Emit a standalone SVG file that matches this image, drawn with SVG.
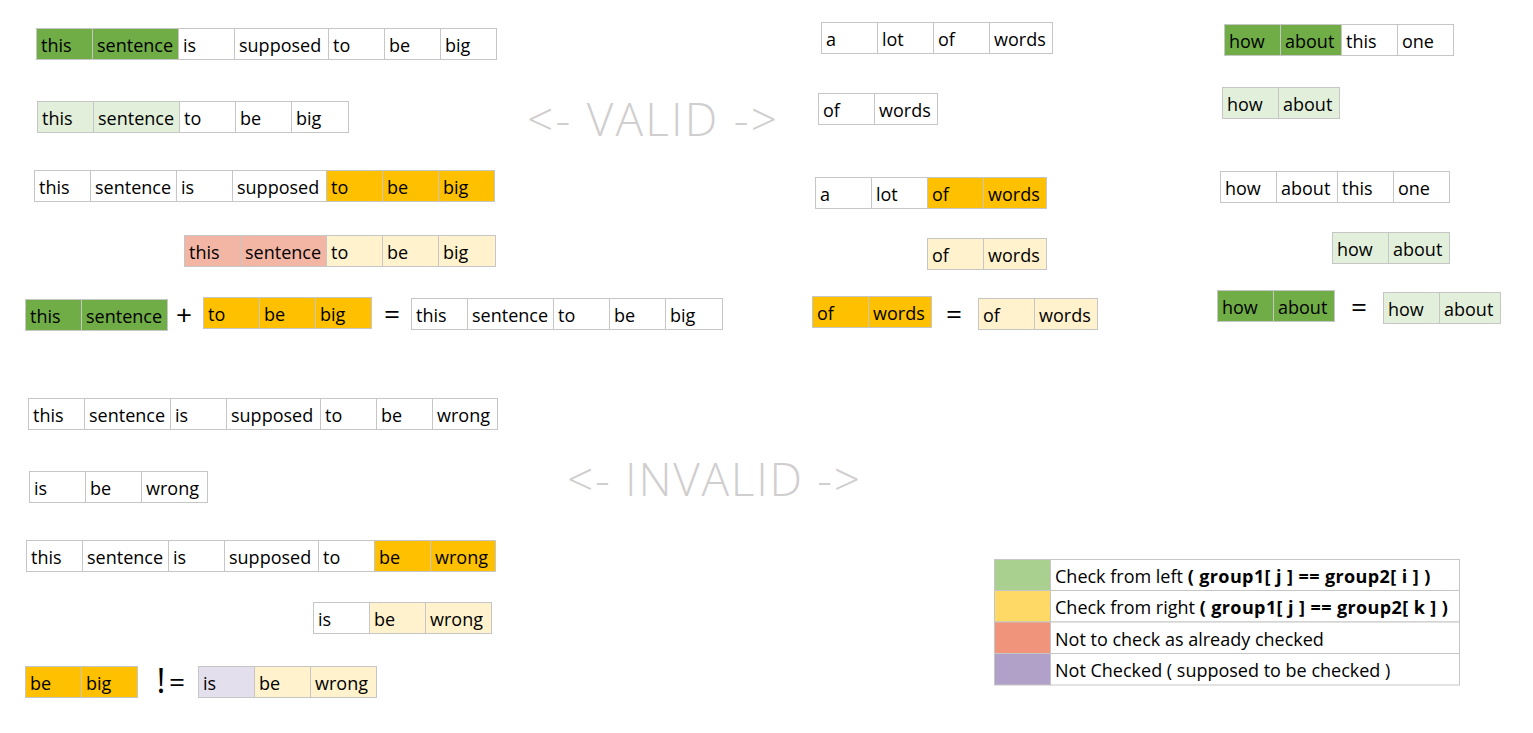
<svg xmlns="http://www.w3.org/2000/svg" width="1533" height="733" viewBox="0 0 1533 733">
<style>
rect{stroke:#C6C6C6;stroke-width:1}
rect.bg{stroke:none;fill:#fff}
.w{fill:#FFFFFF}.g{fill:#70AD47}.lg{fill:#E2EFDA}.o{fill:#FFC000}.ly{fill:#FFF2CC}.p{fill:#F4B6A4}.lp{fill:#E4DFEC}
.t{font-family:"Segoe UI","Open Sans",sans-serif;font-size:18px;fill:#000}
.op{font-family:"Segoe UI","Open Sans",sans-serif;font-size:28px;fill:#000}
.big{font-family:"Segoe UI","Open Sans",sans-serif;font-weight:300;font-size:46px;fill:#D0CECE}
.b{font-weight:bold;letter-spacing:0.4px}
</style>
<rect class="bg" width="1533" height="733"/>

<!-- VALID: left column -->
<g id="v1">
<rect class="g" x="36.5" y="28.5" width="56" height="31"/><rect class="g" x="92.5" y="28.5" width="86" height="31"/><rect class="w" x="178.5" y="28.5" width="56" height="31"/><rect class="w" x="234.5" y="28.5" width="94" height="31"/><rect class="w" x="328.5" y="28.5" width="56" height="31"/><rect class="w" x="384.5" y="28.5" width="56" height="31"/><rect class="w" x="440.5" y="28.5" width="56" height="31"/>
<text class="t" y="51.5"><tspan x="41">this</tspan><tspan x="97">sentence</tspan><tspan x="183">is</tspan><tspan x="239">supposed</tspan><tspan x="333">to</tspan><tspan x="389">be</tspan><tspan x="445">big</tspan></text>
</g>
<g id="v2">
<rect class="lg" x="37.5" y="101.5" width="56" height="31"/><rect class="lg" x="93.5" y="101.5" width="86" height="31"/><rect class="w" x="179.5" y="101.5" width="56" height="31"/><rect class="w" x="235.5" y="101.5" width="56" height="31"/><rect class="w" x="291.5" y="101.5" width="57" height="31"/>
<text class="t" y="124.5"><tspan x="42">this</tspan><tspan x="98">sentence</tspan><tspan x="184">to</tspan><tspan x="240">be</tspan><tspan x="296">big</tspan></text>
</g>
<g id="v3">
<rect class="w" x="34.5" y="170.5" width="56" height="31"/><rect class="w" x="90.5" y="170.5" width="86" height="31"/><rect class="w" x="176.5" y="170.5" width="56" height="31"/><rect class="w" x="232.5" y="170.5" width="94" height="31"/><rect class="o" x="326.5" y="170.5" width="56" height="31"/><rect class="o" x="382.5" y="170.5" width="56" height="31"/><rect class="o" x="438.5" y="170.5" width="56" height="31"/>
<text class="t" y="193.5"><tspan x="39">this</tspan><tspan x="95">sentence</tspan><tspan x="181">is</tspan><tspan x="237">supposed</tspan><tspan x="331">to</tspan><tspan x="387">be</tspan><tspan x="443">big</tspan></text>
</g>
<g id="v4">
<rect class="p" x="184.5" y="235.5" width="56" height="31"/><rect class="p" x="240.5" y="235.5" width="86" height="31"/><rect class="ly" x="326.5" y="235.5" width="56" height="31"/><rect class="ly" x="382.5" y="235.5" width="56" height="31"/><rect class="ly" x="438.5" y="235.5" width="57" height="31"/>
<text class="t" y="258.5"><tspan x="189">this</tspan><tspan x="245">sentence</tspan><tspan x="331">to</tspan><tspan x="387">be</tspan><tspan x="443">big</tspan></text>
</g>
<g id="v5a">
<rect class="g" x="25.5" y="299.5" width="56" height="31"/><rect class="g" x="81.5" y="299.5" width="86" height="31"/>
<text class="t" y="322.5"><tspan x="30">this</tspan><tspan x="86">sentence</tspan></text>
</g>
<text id="plus" class="op" x="184" y="325" text-anchor="middle">+</text>
<g id="v5b">
<rect class="o" x="203.5" y="297.5" width="56" height="31"/><rect class="o" x="259.5" y="297.5" width="56" height="31"/><rect class="o" x="315.5" y="297.5" width="56" height="31"/>
<text class="t" y="320.5"><tspan x="208">to</tspan><tspan x="264">be</tspan><tspan x="320">big</tspan></text>
</g>
<text id="eq1" class="op" x="392" y="324" text-anchor="middle">=</text>
<g id="v5c">
<rect class="w" x="411.5" y="298.5" width="56" height="31"/><rect class="w" x="467.5" y="298.5" width="86" height="31"/><rect class="w" x="553.5" y="298.5" width="56" height="31"/><rect class="w" x="609.5" y="298.5" width="56" height="31"/><rect class="w" x="665.5" y="298.5" width="57" height="31"/>
<text class="t" y="321.5"><tspan x="416">this</tspan><tspan x="472">sentence</tspan><tspan x="558">to</tspan><tspan x="614">be</tspan><tspan x="670">big</tspan></text>
</g>

<text id="valid" class="big" x="527" y="136" textLength="250" lengthAdjust="spacing">&lt;- VALID -&gt;</text>

<!-- VALID: middle column -->
<g id="m1">
<rect class="w" x="821.5" y="22.5" width="56" height="31"/><rect class="w" x="877.5" y="22.5" width="56" height="31"/><rect class="w" x="933.5" y="22.5" width="56" height="31"/><rect class="w" x="989.5" y="22.5" width="63" height="31"/>
<text class="t" y="45.5"><tspan x="826">a</tspan><tspan x="882">lot</tspan><tspan x="938">of</tspan><tspan x="994">words</tspan></text>
</g>
<g id="m2">
<rect class="w" x="818.5" y="93.5" width="56" height="31"/><rect class="w" x="874.5" y="93.5" width="63" height="31"/>
<text class="t" y="116.5"><tspan x="823">of</tspan><tspan x="879">words</tspan></text>
</g>
<g id="m3">
<rect class="w" x="815.5" y="177.5" width="56" height="31"/><rect class="w" x="871.5" y="177.5" width="56" height="31"/><rect class="o" x="927.5" y="177.5" width="56" height="31"/><rect class="o" x="983.5" y="177.5" width="63" height="31"/>
<text class="t" y="200.5"><tspan x="820">a</tspan><tspan x="876">lot</tspan><tspan x="932">of</tspan><tspan x="988">words</tspan></text>
</g>
<g id="m4">
<rect class="ly" x="927.5" y="238.5" width="56" height="31"/><rect class="ly" x="983.5" y="238.5" width="63" height="31"/>
<text class="t" y="261.5"><tspan x="932">of</tspan><tspan x="988">words</tspan></text>
</g>
<g id="m5a">
<rect class="o" x="812.5" y="296.5" width="56" height="31"/><rect class="o" x="868.5" y="296.5" width="63" height="31"/>
<text class="t" y="319.5"><tspan x="817">of</tspan><tspan x="873">words</tspan></text>
</g>
<text id="eq2" class="op" x="954" y="324" text-anchor="middle">=</text>
<g id="m5b">
<rect class="ly" x="978.5" y="298.5" width="56" height="31"/><rect class="ly" x="1034.5" y="298.5" width="63" height="31"/>
<text class="t" y="321.5"><tspan x="983">of</tspan><tspan x="1039">words</tspan></text>
</g>

<!-- VALID: right column -->
<g id="r1">
<rect class="g" x="1224.5" y="24.5" width="56" height="31"/><rect class="g" x="1280.5" y="24.5" width="61" height="31"/><rect class="w" x="1341.5" y="24.5" width="56" height="31"/><rect class="w" x="1397.5" y="24.5" width="56" height="31"/>
<text class="t" y="47.5"><tspan x="1229">how</tspan><tspan x="1285">about</tspan><tspan x="1346">this</tspan><tspan x="1402">one</tspan></text>
</g>
<g id="r2">
<rect class="lg" x="1222.5" y="87.5" width="56" height="31"/><rect class="lg" x="1278.5" y="87.5" width="61" height="31"/>
<text class="t" y="110.5"><tspan x="1227">how</tspan><tspan x="1283">about</tspan></text>
</g>
<g id="r3">
<rect class="w" x="1220.5" y="171.5" width="56" height="31"/><rect class="w" x="1276.5" y="171.5" width="61" height="31"/><rect class="w" x="1337.5" y="171.5" width="56" height="31"/><rect class="w" x="1393.5" y="171.5" width="56" height="31"/>
<text class="t" y="194.5"><tspan x="1225">how</tspan><tspan x="1281">about</tspan><tspan x="1342">this</tspan><tspan x="1398">one</tspan></text>
</g>
<g id="r4">
<rect class="lg" x="1332.5" y="232.5" width="56" height="31"/><rect class="lg" x="1388.5" y="232.5" width="61" height="31"/>
<text class="t" y="255.5"><tspan x="1337">how</tspan><tspan x="1393">about</tspan></text>
</g>
<g id="r5a">
<rect class="g" x="1217.5" y="290.5" width="56" height="31"/><rect class="g" x="1273.5" y="290.5" width="61" height="31"/>
<text class="t" y="313.5"><tspan x="1222">how</tspan><tspan x="1278">about</tspan></text>
</g>
<text id="eq3" class="op" x="1359" y="317" text-anchor="middle">=</text>
<g id="r5b">
<rect class="lg" x="1383.5" y="292.5" width="56" height="31"/><rect class="lg" x="1439.5" y="292.5" width="61" height="31"/>
<text class="t" y="315.5"><tspan x="1388">how</tspan><tspan x="1444">about</tspan></text>
</g>

<!-- INVALID -->
<g id="i1">
<rect class="w" x="28.5" y="398.5" width="56" height="31"/><rect class="w" x="84.5" y="398.5" width="86" height="31"/><rect class="w" x="170.5" y="398.5" width="56" height="31"/><rect class="w" x="226.5" y="398.5" width="94" height="31"/><rect class="w" x="320.5" y="398.5" width="56" height="31"/><rect class="w" x="376.5" y="398.5" width="56" height="31"/><rect class="w" x="432.5" y="398.5" width="65" height="31"/>
<text class="t" y="421.5"><tspan x="33">this</tspan><tspan x="89">sentence</tspan><tspan x="175">is</tspan><tspan x="231">supposed</tspan><tspan x="325">to</tspan><tspan x="381">be</tspan><tspan x="437">wrong</tspan></text>
</g>
<g id="i2">
<rect class="w" x="29.5" y="471.5" width="56" height="31"/><rect class="w" x="85.5" y="471.5" width="56" height="31"/><rect class="w" x="141.5" y="471.5" width="66" height="31"/>
<text class="t" y="494.5"><tspan x="34">is</tspan><tspan x="90">be</tspan><tspan x="146">wrong</tspan></text>
</g>
<text id="invalid" class="big" x="567" y="496" textLength="293" lengthAdjust="spacing">&lt;- INVALID -&gt;</text>
<g id="i3">
<rect class="w" x="26.5" y="540.5" width="56" height="31"/><rect class="w" x="82.5" y="540.5" width="86" height="31"/><rect class="w" x="168.5" y="540.5" width="56" height="31"/><rect class="w" x="224.5" y="540.5" width="94" height="31"/><rect class="w" x="318.5" y="540.5" width="56" height="31"/><rect class="o" x="374.5" y="540.5" width="56" height="31"/><rect class="o" x="430.5" y="540.5" width="65" height="31"/>
<text class="t" y="563.5"><tspan x="31">this</tspan><tspan x="87">sentence</tspan><tspan x="173">is</tspan><tspan x="229">supposed</tspan><tspan x="323">to</tspan><tspan x="379">be</tspan><tspan x="435">wrong</tspan></text>
</g>
<g id="i4">
<rect class="w" x="313.5" y="602.5" width="56" height="31"/><rect class="ly" x="369.5" y="602.5" width="56" height="31"/><rect class="ly" x="425.5" y="602.5" width="66" height="31"/>
<text class="t" y="625.5"><tspan x="318">is</tspan><tspan x="374">be</tspan><tspan x="430">wrong</tspan></text>
</g>
<g id="i5a">
<rect class="o" x="25.5" y="666.5" width="56" height="31"/><rect class="o" x="81.5" y="666.5" width="56" height="31"/>
<text class="t" y="689.5"><tspan x="30">be</tspan><tspan x="86">big</tspan></text>
</g>
<g id="neq">
<text class="op" x="161" y="693" text-anchor="middle" style="font-size:34px">!</text>
<text class="op" x="177" y="692" text-anchor="middle">=</text>
</g>
<g id="i5b">
<rect class="lp" x="198.5" y="666.5" width="56" height="31"/><rect class="ly" x="254.5" y="666.5" width="56" height="31"/><rect class="ly" x="310.5" y="666.5" width="66" height="31"/>
<text class="t" y="689.5"><tspan x="203">is</tspan><tspan x="259">be</tspan><tspan x="315">wrong</tspan></text>
</g>

<!-- Legend -->
<g id="legend">
<rect fill="#A9D08E" x="994.5" y="559.5" width="56" height="31"/><rect class="w" x="1050.5" y="559.5" width="409" height="31"/>
<rect fill="#FFD966" x="994.5" y="590.5" width="56" height="31.5"/><rect class="w" x="1050.5" y="590.5" width="409" height="31.5"/>
<rect fill="#F0947C" x="994.5" y="622" width="56" height="31.5"/><rect class="w" x="1050.5" y="622" width="409" height="31.5"/>
<rect fill="#B1A0C7" x="994.5" y="653.5" width="56" height="31.5"/><rect class="w" x="1050.5" y="653.5" width="409" height="31.5"/>
<text class="t" x="1055" y="583">Check from left <tspan class="b">( group1[ j ] == group2[ i ] )</tspan></text>
<text class="t" x="1055" y="614">Check from right <tspan class="b">( group1[ j ] == group2[ k ] )</tspan></text>
<text class="t" x="1055" y="646">Not to check as already checked</text>
<text class="t" x="1055" y="677">Not Checked ( supposed to be checked )</text>
</g>
</svg>
